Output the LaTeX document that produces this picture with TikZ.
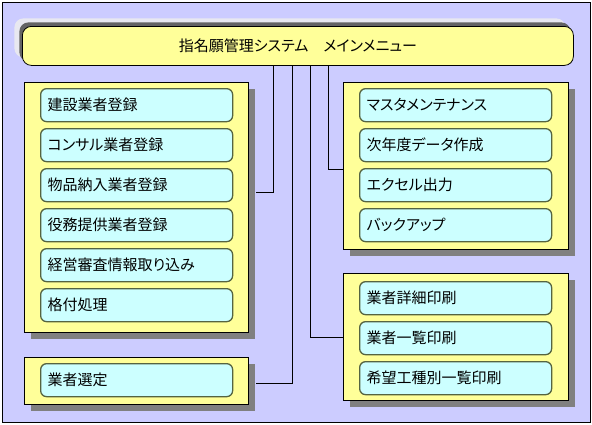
\documentclass[tikz,border=0pt]{standalone}
\usepackage{fontspec}
\setmainfont{Noto Sans CJK JP}[RawFeature=+palt]
\usetikzlibrary{shadows,calc}
\definecolor{lav}{RGB}{204,204,255}
\definecolor{yel}{RGB}{255,255,153}
\definecolor{cya}{RGB}{204,255,255}
\definecolor{itemedge}{RGB}{85,100,65}
\definecolor{shgray}{RGB}{128,128,128}
\definecolor{lightsh}{RGB}{232,232,240}
\definecolor{darkedge}{RGB}{100,100,100}
\tikzset{
  group/.style={draw=black, line width=0.8pt, fill=yel, anchor=north west, inner sep=0pt,
    drop shadow={shadow xshift=7pt, shadow yshift=-7pt, fill=shgray, opacity=1}},
  item/.style={draw=itemedge, line width=1.3pt, fill=cya, rounded corners=6pt, anchor=north west,
    minimum height=33pt, text width=178pt, inner xsep=7pt, inner ysep=0pt, align=left,
    font=\fontsize{15pt}{16pt}\selectfont},
  titlebox/.style={draw=black, line width=0.8pt, fill=yel, rounded corners=9pt, anchor=north west,
    minimum width=551pt, minimum height=39pt, inner sep=0pt,
    general shadow={shadow xshift=-8pt, shadow yshift=8pt, fill=lightsh},
    general shadow={shadow xshift=-3pt, shadow yshift=4pt, fill=darkedge},
    font=\fontsize{15pt}{16pt}\selectfont},
  conn/.style={draw=black, line width=0.8pt}
}
\begin{document}
\begin{tikzpicture}[x=1pt,y=-1pt]
\useasboundingbox (0,0) rectangle (592,424);
\fill[white] (0,0) rectangle (592,424);
\draw[fill=lav, line width=0.9pt] (2,2) rectangle (590,422);

% title
\node[titlebox] (title) at (22,26) {指名願管理システム　メインメニュー};

% group frames
\node[group, minimum width=224pt, minimum height=250pt] (lg1) at (24,82) {};
\node[group, minimum width=224pt, minimum height=47pt] (lg2) at (24,357) {};
\node[group, minimum width=225pt, minimum height=167pt] (rg1) at (343,82) {};
\node[group, minimum width=225pt, minimum height=127pt] (rg2) at (343,273) {};

% connectors
\draw[conn] (title.south -| 273,0) |- ($(lg1.east |- 0,192)+(7,0)$);
\draw[conn] (title.south -| 292,0) |- ($(lg2.east |- 0,383)+(7,0)$);
\draw[conn] (title.south -| 310,0) |- (rg2.west |- 0,337);
\draw[conn] (title.south -| 328,0) |- (rg1.west |- 0,169);

% left items
\node[item] (a1) at (40,88)  {建設業者登録};
\node[item] (a2) at (40,128) {コンサル業者登録};
\node[item] (a3) at (40,168) {物品納入業者登録};
\node[item] (a4) at (40,208) {役務提供業者登録};
\node[item] (a5) at (40,248) {経営審査情報取り込み};
\node[item] (a6) at (40,288) {格付処理};
\node[item] (b1) at (40,363) {業者選定};
% right items
\node[item] (c1) at (359,88)  {マスタメンテナンス};
\node[item] (c2) at (359,128) {次年度データ作成};
\node[item] (c3) at (359,168) {エクセル出力};
\node[item] (c4) at (359,208) {バックアップ};
\node[item] (d1) at (359,281) {業者詳細印刷};
\node[item] (d2) at (359,321) {業者一覧印刷};
\node[item] (d3) at (359,361) {希望工種別一覧印刷};
\end{tikzpicture}
\end{document}
